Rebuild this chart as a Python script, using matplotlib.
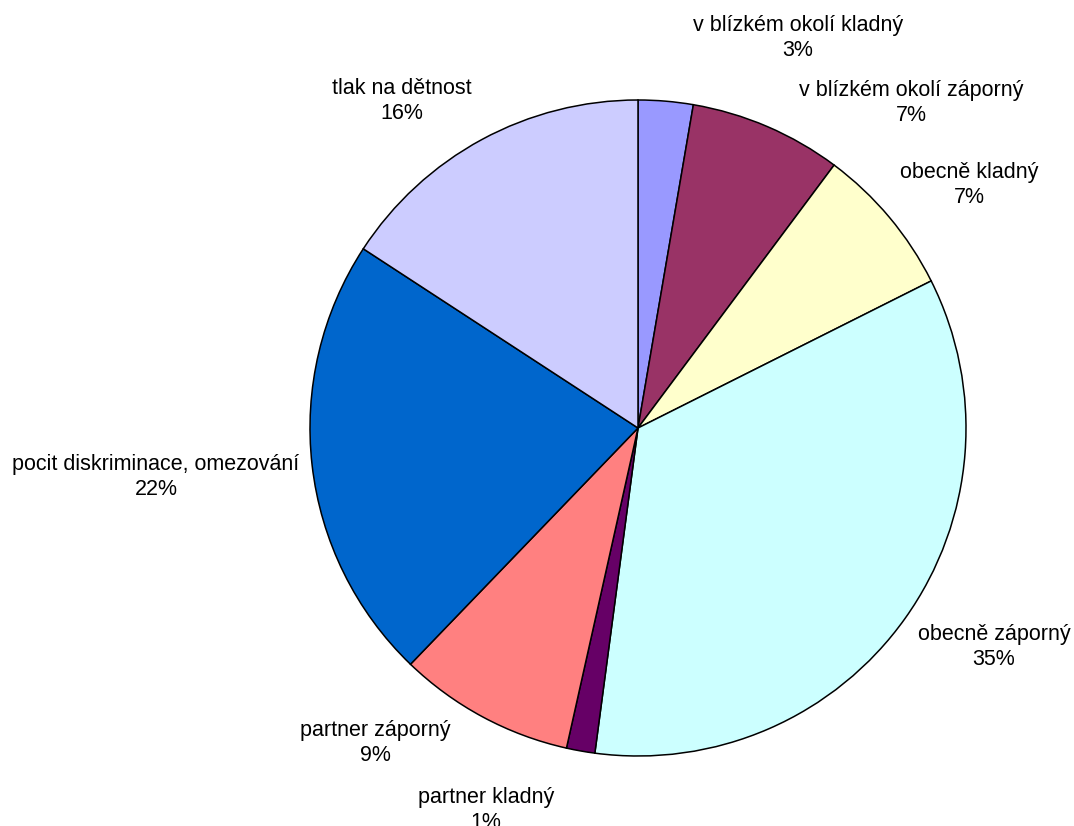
import matplotlib
matplotlib.use("Agg")
import matplotlib.pyplot as plt

categories = ["v blízkém okolí kladný", "v blízkém okolí záporný", "obecně kladný",
              "obecně záporný", "partner kladný", "partner záporný",
              "pocit diskriminace, omezování", "tlak na dětnost"]
values = [2.7, 7.5, 7.4, 34.5, 1.4, 8.7, 22.0, 15.8]
pct_labels = ["3%", "7%", "7%", "35%", "1%", "9%", "22%", "16%"]
colors = ["#9999FF", "#993366", "#FFFFCC", "#CCFFFF", "#660066", "#FF8080", "#0066CC", "#CCCCFF"]

# label centres in pixel coordinates (layout)
label_px = [(798, 38), (911, 103), (969, 185), (994, 647), (486, 810),
            (375, 743), (156, 477), (402, 101)]

W, H = 1074, 826
fig = plt.figure(figsize=(W / 100, H / 100), dpi=100)
cx, cy, r = 638, 428, 328
ax = fig.add_axes([(cx - r) / W, (H - cy - r) / H, 2 * r / W, 2 * r / H])
ax.pie(values, colors=colors, startangle=90, counterclock=False, radius=1,
       wedgeprops=dict(edgecolor="black", linewidth=1.1))
ax.set_xlim(-1, 1)
ax.set_ylim(-1, 1)
ax.set_aspect("equal")
ax.axis("off")

for cat, pct, (px, py) in zip(categories, pct_labels, label_px):
    fig.text(px / W, 1 - py / H, f"{cat}\n{pct}", ha="center", va="center",
             fontsize=15.5, family=["Liberation Sans", "DejaVu Sans"],
             linespacing=1.2, color="black")

fig.savefig("out.png", dpi=100, facecolor="white")
